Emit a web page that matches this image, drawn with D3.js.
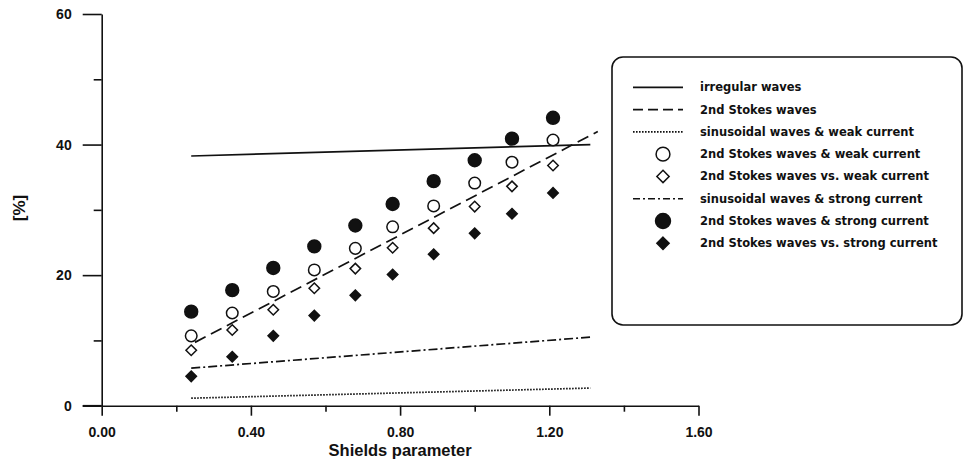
<!DOCTYPE html>
<html lang="en">
<head>
<meta charset="UTF-8">
<title>Shields parameter</title>
<script src="https://cdnjs.cloudflare.com/ajax/libs/d3/7.8.5/d3.min.js"></script>
<style>
  body { margin: 0; background: #fff; }
  svg text { font-family: "Liberation Sans", Arial, sans-serif; font-weight: bold; fill: #111; }
  svg text.leg { font-family: "DejaVu Sans", sans-serif; }
</style>
</head>
<body>
<div id="chart"></div>
<script>
// measured points (Shields parameter vs [%])
var shieldsX = [0.24, 0.35, 0.46, 0.57, 0.68, 0.78, 0.89, 1.00, 1.10, 1.21];
var stokesStrongAnd = [14.4, 17.7, 21.1, 24.4, 27.6, 30.9, 34.4, 37.6, 40.9, 44.1];
var stokesWeakAnd   = [10.7, 14.2, 17.5, 20.8, 24.1, 27.4, 30.6, 34.1, 37.3, 40.7];
var stokesVsWeak    = [8.5, 11.6, 14.7, 18.0, 21.0, 24.2, 27.2, 30.5, 33.6, 36.8];
var stokesVsStrong  = [4.5, 7.5, 10.7, 13.8, 16.9, 20.1, 23.2, 26.4, 29.4, 32.6];

// fitted lines, given by their end points
var irregularX = [0.24, 1.31], irregularY = [38.25, 40.0];
var stokesX    = [0.25, 1.33], stokesY    = [9.7, 42.0];
var sinWeakX   = [0.24, 1.31], sinWeakY   = [1.15, 2.7];
var sinStrongX = [0.24, 1.31], sinStrongY = [5.75, 10.5];

var xMajor = [0, 0.4, 0.8, 1.2, 1.6];
var xMinor = [0.2, 0.6, 1.0, 1.4];
var yMajor = [0, 20, 40, 60];
var yMinor = [10, 30, 50];

var legendLabels = [
  "irregular waves",
  "2nd Stokes waves",
  "sinusoidal waves & weak current",
  "2nd Stokes waves & weak current",
  "2nd Stokes waves vs. weak current",
  "sinusoidal waves & strong current",
  "2nd Stokes waves & strong current",
  "2nd Stokes waves vs. strong current"
];

var W = 964, H = 465;
var ink = "#111";

var svg = d3.select("#chart").append("svg")
  .attr("width", W).attr("height", H);

var x = d3.scaleLinear().domain([0, 1.6]).range([101.7, 698.5]);
var y = d3.scaleLinear().domain([0, 60]).range([405.7, 14]);

// y axis
var gy = svg.append("g").attr("transform", "translate(" + x(0) + ",0)");
gy.call(d3.axisLeft(y).tickValues(yMajor).tickSize(19).tickPadding(11)
  .tickFormat(d3.format("d")).tickSizeOuter(0));
gy.append("g").call(d3.axisLeft(y).tickValues(yMinor).tickSize(8).tickFormat(""))
  .select(".domain").remove();

// x axis
var gx = svg.append("g").attr("transform", "translate(0," + y(0) + ")");
gx.call(d3.axisBottom(x).tickValues(xMajor).tickSize(10).tickPadding(11)
  .tickFormat(d3.format(".2f")).tickSizeOuter(0));
gx.append("g").call(d3.axisBottom(x).tickValues(xMinor).tickSize(6).tickFormat(""))
  .select(".domain").remove();
// axis line continues left to the end of the y tick
gx.append("line").attr("x1", x(0) - 19).attr("x2", x(0)).attr("stroke", ink).attr("stroke-width", 1.6);

svg.selectAll(".domain, .tick line").attr("stroke", ink).attr("stroke-width", 1.6);
svg.selectAll(".tick text").style("font-size", "14px").attr("fill", ink);

svg.append("text").attr("x", x(0.8)).attr("y", 456).attr("text-anchor", "middle")
  .style("font-size", "16.5px").text("Shields parameter");
svg.append("text").attr("transform", "translate(25,208) rotate(-90)")
  .attr("text-anchor", "middle").style("font-size", "17px").text("[%]");

// lines
var styles = {
  solid: null,
  dashed: "12,6",
  dotted: "1.6,1.4",
  dashdot: "9,3,2,3"
};
function drawLine(xs, ys, dash) {
  svg.append("path")
    .datum(xs.map(function(v, i) { return [v, ys[i]]; }))
    .attr("d", d3.line().x(function(d) { return x(d[0]); }).y(function(d) { return y(d[1]); }))
    .attr("fill", "none").attr("stroke", ink).attr("stroke-width", 1.7)
    .attr("stroke-dasharray", dash);
}
drawLine(irregularX, irregularY, styles.solid);
drawLine(stokesX, stokesY, styles.dashed);
drawLine(sinWeakX, sinWeakY, styles.dotted);
drawLine(sinStrongX, sinStrongY, styles.dashdot);

// markers
function drawMarkers(vals, shape, filled, size) {
  svg.append("g").selectAll("path").data(vals).enter().append("path")
    .attr("transform", function(d, i) { return "translate(" + x(shieldsX[i]) + "," + y(d) + ")"; })
    .attr("d", d3.symbol().type(shape).size(size))
    .attr("fill", filled ? ink : "#fff")
    .attr("stroke", ink).attr("stroke-width", 1.5);
}
var diamond = {
  draw: function(ctx, s) {
    var r = Math.sqrt(s) / 2;
    ctx.moveTo(0, -r); ctx.lineTo(r, 0); ctx.lineTo(0, r); ctx.lineTo(-r, 0); ctx.closePath();
  }
};
drawMarkers(stokesVsStrong, diamond, true, 110);
drawMarkers(stokesVsWeak, diamond, false, 110);
drawMarkers(stokesWeakAnd, d3.symbolCircle, false, 105);
drawMarkers(stokesStrongAnd, d3.symbolCircle, true, 130);

// legend
var lg = svg.append("g");
lg.append("rect").attr("x", 612).attr("y", 57).attr("width", 350).attr("height", 268)
  .attr("rx", 11).attr("fill", "#fff").attr("stroke", ink).attr("stroke-width", 1.6);

var legendKeys = [
  { kind: "line", dash: styles.solid },
  { kind: "line", dash: "10,5" },
  { kind: "line", dash: styles.dotted },
  { kind: "sym", shape: d3.symbolCircle, filled: false, size: 150 },
  { kind: "sym", shape: diamond, filled: false, size: 150 },
  { kind: "line", dash: "7,3,2,3" },
  { kind: "sym", shape: d3.symbolCircle, filled: true, size: 175 },
  { kind: "sym", shape: diamond, filled: true, size: 150 }
];
var rowY = d3.scaleLinear().domain([0, 7]).range([87.3, 243.3]);
legendLabels.forEach(function(label, i) {
  var k = legendKeys[i], cy = rowY(i);
  if (k.kind === "line") {
    lg.append("line").attr("x1", 633).attr("x2", 683).attr("y1", cy).attr("y2", cy)
      .attr("stroke", ink).attr("stroke-width", 1.7).attr("stroke-dasharray", k.dash);
  } else {
    lg.append("path").attr("transform", "translate(663," + cy + ")")
      .attr("d", d3.symbol().type(k.shape).size(k.size))
      .attr("fill", k.filled ? ink : "#fff").attr("stroke", ink).attr("stroke-width", 1.5);
  }
  lg.append("text").attr("class", "leg").attr("x", 700).attr("y", cy).attr("dy", "0.35em")
    .style("font-size", "11.5px").text(label);
});
</script>
</body>
</html>
